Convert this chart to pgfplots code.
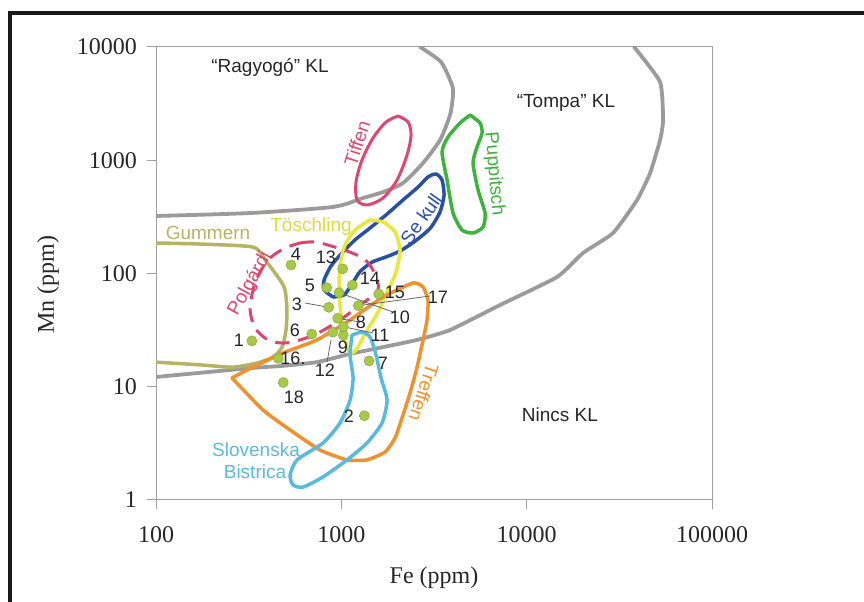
\documentclass[border=0pt]{standalone}
\usepackage{fontspec}
\setmainfont{Liberation Sans}
\newfontfamily\serif{Liberation Serif}
\usepackage{pgfplots}
\pgfplotsset{compat=1.18}
\definecolor{gcurve}{RGB}{155,155,155}
\definecolor{cGum}{RGB}{180,180,100}
\definecolor{cPol}{RGB}{222,68,110}
\definecolor{cTif}{RGB}{225,70,110}
\definecolor{cSek}{RGB}{40,80,165}
\definecolor{cTos}{RGB}{232,232,60}
\definecolor{cTre}{RGB}{240,145,45}
\definecolor{cSlo}{RGB}{90,185,225}
\definecolor{cPup}{RGB}{60,180,60}
\definecolor{cDot}{RGB}{168,200,72}
\definecolor{cDotE}{RGB}{140,175,60}
\begin{document}
\begin{tikzpicture}
\begin{axis}[
  at={(156bp,102bp)}, anchor=south west,
  scale only axis, width=556bp, height=453bp,
  xmode=log, ymode=log,
  xmin=100, xmax=100000, ymin=1, ymax=10000,
  xtick={100,1000,10000,100000}, xticklabels={100,1000,10000,100000},
  ytick={1,10,100,1000,10000}, yticklabels={1,10,100,1000,10000},
  xminorticks=false, yminorticks=false,
  tick align=outside, tick pos=left,
  major tick length=9bp,
  axis line style={draw=gray!75, line width=1bp},
  every tick/.style={draw=gray!75, line width=1bp},
  ticklabel style={font=\serif\fontsize{24bp}{24bp}\selectfont, inner sep=0pt, text=black!85},
  xticklabel style={anchor=center, yshift=-26bp},
  yticklabel style={anchor=east, xshift=-10bp},
  line join=round, line cap=round,
]
% grey boundary curves
\addplot[gcurve, line width=3.8bp, smooth, tension=0.4] coordinates {
(100,322) (322,342) (902,387) (1309,464) (1679,524) (2153,630) (2760,946) (3410,1510) (3860,2509) (4006,3768) (3957,4618) (3451,7372) (2659,10000)};
\addplot[gcurve, line width=3.8bp, smooth, tension=0.3] coordinates {
(100,12.2) (322,14.6) (485,15.3) (739,16.5) (1114,19.5) (1679,22.4) (2562,25.9) (3860,31.7) (7184,52.7) (14590,93.1) (20160,152) (29270,228) (39430,446) (46350,771) (52480,1510) (54450,2267) (52480,4909) (38000,10000)};
% Gummern
\addplot[cGum, line width=3.5bp, smooth, tension=0.4] coordinates {
(100,186) (173,182) (334,171) (388,132) (467,87.6) (497,71.5) (509,47.6) (503,31.7) (479,22.4) (428,18.3) (351,16.2) (260,14.9) (173,15.6) (100,16.5)};
% Tiffen
\addplot[cTif, line width=3bp, smooth, tension=0.5] coordinates {
(2023,2459) (2291,2177) (2378,1671) (2262,1113) (1998,669) (1679,464) (1376,403) (1215,446) (1200,643) (1293,1005) (1483,1573) (1743,2177) (2023,2459)};
% Puppitsch
\addplot[cPup, line width=3.5bp, smooth, tension=0.4] coordinates {
(4951,2509) (5604,2133) (5745,1740) (5399,1309) (5136,946) (5467,546) (5964,342) (5817,257) (5136,228) (4481,242) (4006,342) (3720,669) (3495,1182) (3766,1605) (4371,2133) (4951,2509)};
% Sekull
\addplot[cSek, line width=3.5bp, smooth, tension=0.4] coordinates {
(902,62.0) (807,71.5) (807,87.6) (880,116.5) (1009,152) (1185,198) (1428,252) (1765,335) (2153,446) (2594,580) (2937,712) (3244,756) (3495,669) (3583,493) (3410,350) (3011,250) (2468,190) (2074,158) (1786,142) (1464,126) (1262,104) (1142,80.8) (1034,64.6) (902,62.0)};
% Toschling
\addplot[cTos, line width=3.5bp, smooth, tension=0.4] coordinates {
(1428,297) (1679,285) (1949,233) (2074,161) (1974,103) (1786,71.5) (1578,45.7) (1359,30.4) (1200,21.1) (1114,19.9) (1047,25.9) (996,43.0) (972,71.5) (984,119) (1047,179) (1185,242) (1428,297)};
% Treffen
\addplot[cTre, line width=3.5bp, smooth, tension=0.3] coordinates {
(257,11.95) (310,14.06) (485,19.9) (739,25.9) (1114,38.9) (1679,62.0) (2437,82.5) (2760,76.0) (2937,58.3) (2901,38.9) (2760,25.9) (2562,14.9) (2348,8.81) (2126,5.30) (1949,3.53) (1721,2.65) (1376,2.26) (1073,2.26) (768,2.76) (529,4.15) (378,6.23) (257,11.95)};
% Slovenska Bistrica
\addplot[cSlo, line width=3.5bp, smooth, tension=0.4] coordinates {
(1142,28.6) (1293,30.4) (1428,27.5) (1539,19.1) (1638,11.95) (1765,7.64) (1658,4.79) (1376,3.19) (1073,2.26) (797,1.60) (621,1.30) (549,1.36) (529,1.66) (577,2.26) (797,3.19) (984,4.79) (1114,7.64) (1157,11.95) (1114,19.1) (1142,28.6)};
% Polgardi (dashed)
\addplot[cPol, line width=3bp, smooth, tension=0.5, dash pattern=on 14bp off 9bp, line cap=butt] coordinates {
(599,186) (721,190) (925,171) (1142,152) (1342,132) (1501,103) (1578,71.5) (1262,52.7) (984,38.9) (749,29.8) (599,25.9) (485,24.3) (402,25.9) (342,33.0) (322,47.6) (334,71.5) (364,103) (412,137) (497,168) (599,186)};
% leader lines
\addplot[black!60, line width=0.8bp] coordinates {(637,54.9) (855,50.3)};
\addplot[black!60, line width=0.8bp] coordinates {(972,67.7) (1901,45.7)};
\addplot[black!60, line width=0.8bp] coordinates {(1236,52) (3011,63.3)};
\addplot[black!60, line width=0.8bp] coordinates {(837,16.5) (880,25.9)};
\addplot[black!60, line width=0.8bp] coordinates {(956,40.2) (1262,37.3)};
\addplot[black!60, line width=0.8bp] coordinates {(1025,33.9) (1483,29.8)};
% sample points
\addplot[only marks, mark=*, mark size=5bp, mark options={fill=cDot, draw=cDotE, line width=0.6bp}] coordinates {
(329,25.4) (1331,5.55) (855,50.3) (535,119) (834,75) (692,29.2) (1411,16.9) (956,40.2) (1025,28.6) (972,67.7) (1025,33.9) (899,30.3) (1017,110) (1147,79.1) (1591,65.9) (457,17.8) (1236,52) (486,10.9)};
\end{axis}
\begin{scope}[x=1bp, y=-1bp, shift={(0bp,602bp)}]
% frame
\draw[black!90, line width=3.5bp] (10,602) -- (10,13) -- (864,13);
% axis titles
\node[font=\serif\fontsize{24bp}{24bp}\selectfont, text=black!85] at (434,578) {Fe (ppm)};
\node[font=\serif\fontsize{24bp}{24bp}\selectfont, text=black!85, rotate=90] at (48,285) {Mn (ppm)};
% region labels
\begin{scope}[every node/.style={font=\fontsize{19bp}{22bp}\selectfont, inner sep=0pt}]
\node[text=black!85] at (270,67) {“Ragyogó” KL};
\node[text=black!85] at (566,103) {“Tompa” KL};
\node[text=black!85] at (560,415) {Nincs KL};
\node[text=cGum] at (208,233) {Gummern};
\node[text=cTos!95!black] at (311,227) {Töschling};
\node[text=cTif, rotate=72] at (357,143) {Tiffen};
\node[text=cSek, rotate=55] at (421,219) {Se kull};
\node[text=cPup, rotate=-85] at (494,174) {Puppitsch};
\node[text=cPol, rotate=61] at (250,284) {Polgárdi};
\node[text=cTre, rotate=-108] at (424,393) {Treffen};
\node[text=cSlo] at (256,450) {Slovenska};
\node[text=cSlo] at (255,472) {Bistrica};
\end{scope}
% point labels
\begin{scope}[every node/.style={font=\fontsize{18bp}{20bp}\selectfont, inner sep=0pt, text=black!85}]
\node at (239,340) {1};
\node at (349,416) {2};
\node at (297,304) {3};
\node at (296,254) {4};
\node at (310,285) {5};
\node at (295,330) {6};
\node at (383,363) {7};
\node at (361,322) {8};
\node at (343,347) {9};
\node at (400,317) {10};
\node at (380,335) {11};
\node at (325,370) {12};
\node at (326,257) {13};
\node at (370,278) {14};
\node at (395,292) {15};
\node at (293,358) {16.};
\node at (438,297) {17};
\node at (294,397) {18};
\end{scope}
\end{scope}
\pgfresetboundingbox
\path[use as bounding box] (0,0) rectangle (864bp,602bp);
\end{tikzpicture}
\end{document}
